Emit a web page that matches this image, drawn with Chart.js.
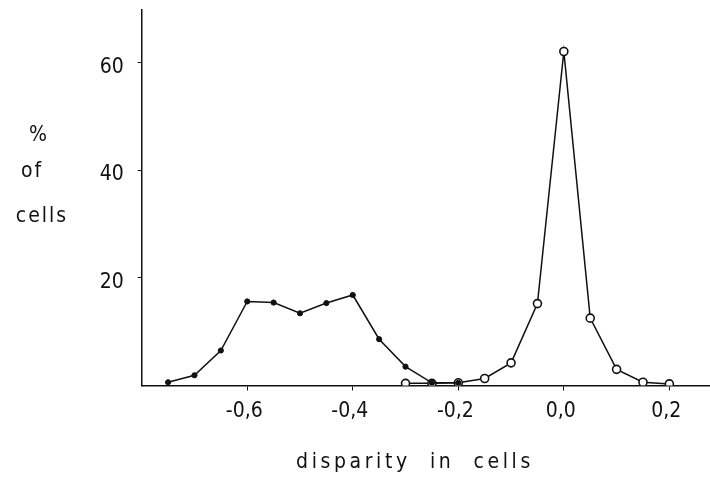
<!DOCTYPE html>
<html lang="en">
<head>
  <meta charset="UTF-8">
  <title>Disparity histogram</title>
  <script src="https://cdn.jsdelivr.net/npm/chart.js"></script>
  <style>
    html, body { margin: 0; padding: 0; background: #fff; overflow: hidden; }
    #wrap { width: 710px; height: 479px; }
  </style>
</head>
<body>
  <div id="wrap"><canvas id="chart"></canvas></div>

  <script>
    // filled dots
    const filledX = [-0.75, -0.70, -0.65, -0.60, -0.55, -0.50, -0.45, -0.40, -0.35, -0.30, -0.25, -0.20];
    const filledY = [0.6, 1.9, 6.5, 15.6, 15.4, 13.4, 15.3, 16.8, 8.6, 3.5, 0.5, 0.5];

    // open circles
    const openX = [-0.30, -0.25, -0.20, -0.15, -0.10, -0.05, 0.00, 0.05, 0.10, 0.15, 0.20];
    const openY = [0.4, 0.4, 0.5, 1.3, 4.2, 15.2, 62.0, 12.5, 3.0, 0.6, 0.3];

    const xTicks = [-0.6, -0.4, -0.2, 0.0, 0.2];
    const yTicks = [20, 40, 60];

    const FONT = "'DejaVu Sans Condensed', 'DejaVu Sans', sans-serif";
    const INK = "#111";

    function toPoints(xs, ys) {
      return xs.map((x, i) => ({ x: x, y: ys[i] }));
    }

    // no automatic label padding, the plot box is fixed
    function noPad(scale) {
      scale.paddingTop = 0;
      scale.paddingBottom = 0;
      scale.paddingLeft = 0;
      scale.paddingRight = 0;
    }

    // axis titles, drawn by hand so they can be letter-spaced like the scan
    const labels = {
      id: "labels",
      afterDraw(chart) {
        const ctx = chart.ctx;
        ctx.save();
        ctx.fillStyle = INK;
        ctx.textAlign = "center";
        ctx.textBaseline = "middle";
        ctx.font = "21px " + FONT;
        ctx.letterSpacing = "3.6px";
        ctx.fillText("disparity  in  cells", 415, 463);
        ctx.letterSpacing = "2px";
        ctx.fillText("%", 39, 136);
        ctx.fillText("of", 32, 172);
        ctx.fillText("cells", 42, 217);
        ctx.restore();
      }
    };

    new Chart(document.getElementById("chart"), {
      type: "line",
      data: {
        datasets: [{
          data: toPoints(filledX, filledY),
          borderColor: INK,
          borderWidth: 1.5,
          pointRadius: 2.6,
          pointBackgroundColor: INK,
          pointBorderColor: INK,
          pointBorderWidth: 1,
          tension: 0
        }, {
          data: toPoints(openX, openY),
          borderColor: INK,
          borderWidth: 1.5,
          pointRadius: 4,
          pointBackgroundColor: "#fff",
          pointBorderColor: INK,
          pointBorderWidth: 1.6,
          tension: 0
        }]
      },
      options: {
        responsive: true,
        maintainAspectRatio: false,
        animation: false,
        layout: { autoPadding: false, padding: { top: 10, right: 0, left: 0, bottom: 0 } },
        plugins: {
          legend: { display: false },
          tooltip: { enabled: false }
        },
        scales: {
          x: {
            type: "linear",
            min: -0.8,
            max: 0.277,
            afterBuildTicks(scale) {
              scale.ticks = xTicks.map(v => ({ value: v }));
            },
            afterFit(scale) {
              scale.height = 93.5;
              noPad(scale);
            },
            grid: {
              drawOnChartArea: false,
              drawTicks: true,
              tickLength: 5,
              color: INK
            },
            border: { color: INK, width: 1.5 },
            ticks: {
              color: INK,
              padding: 8,
              labelOffset: -3,
              maxRotation: 0,
              font: { family: FONT, size: 21 },
              callback: v => v.toFixed(1).replace(".", ",")
            }
          },
          y: {
            min: 0,
            max: 69.7,
            afterBuildTicks(scale) {
              scale.ticks = yTicks.map(v => ({ value: v }));
            },
            afterFit(scale) {
              scale.width = 141.7;
              noPad(scale);
            },
            grid: {
              drawOnChartArea: false,
              drawTicks: true,
              tickLength: 4,
              color: INK
            },
            border: { color: INK, width: 1.5 },
            ticks: {
              color: INK,
              padding: 14,
              labelOffset: 5,
              font: { family: FONT, size: 21 }
            }
          }
        }
      },
      plugins: [labels]
    });
  </script>
</body>
</html>
